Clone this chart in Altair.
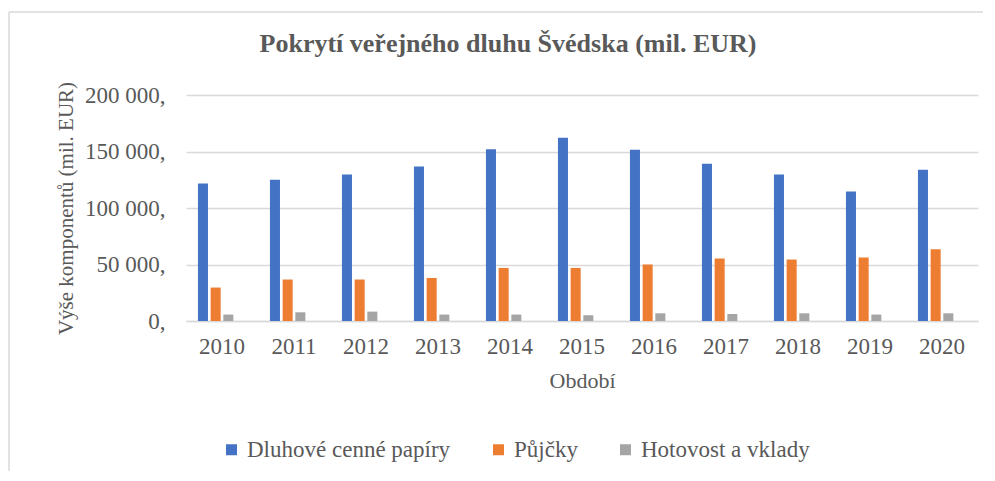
import altair as alt
import pandas as pd

years = ["2010", "2011", "2012", "2013", "2014", "2015", "2016", "2017", "2018", "2019", "2020"]
series = ["Dluhové cenné papíry", "Půjčky", "Hotovost a vklady"]
securities = [121700, 124900, 129700, 136800, 152100, 162100, 151500, 139100, 129700, 114600, 133800]
loans = [29600, 36700, 36700, 38100, 47000, 47000, 50000, 55300, 54400, 56200, 63500]
cash = [5700, 7700, 8300, 5700, 5700, 5100, 6800, 6200, 6800, 5700, 6800]
colors = ["#4472C4", "#ED7D31", "#A5A5A5"]

rows = []
for name, vals in zip(series, [securities, loans, cash]):
    for y, v in zip(years, vals):
        rows.append({"Období": y, "Série": name, "Hodnota": v})
df = pd.DataFrame(rows)

FONT = "Liberation Serif"
TXT = "#595959"
GRID = "#d9d9d9"

bars = alt.Chart(df).mark_bar().encode(
    x=alt.X("Období:N", sort=years,
            scale=alt.Scale(paddingInner=0.295, paddingOuter=0.1475),
            axis=alt.Axis(title="Období", labelAngle=0, ticks=False, domainColor=GRID,
                          domainWidth=1.5, labelPadding=14, titlePadding=12,
                          labelFont=FONT, titleFont=FONT, labelColor=TXT, titleColor=TXT,
                          labelFontSize=23, titleFontSize=22, titleFontWeight="normal")),
    xOffset=alt.XOffset("Série:N",
                        scale=alt.Scale(domain=series + ["_"], paddingInner=0.21, paddingOuter=0.105)),
    y=alt.Y("Hodnota:Q",
            scale=alt.Scale(domain=[0, 200000]),
            axis=alt.Axis(title="Výše komponentů (mil. EUR)", values=[0, 50000, 100000, 150000, 200000],
                          labelExpr="replace(format(datum.value, ','), ',', ' ') + ','",
                          ticks=False, domain=False, gridColor=GRID, gridWidth=1.5,
                          labelPadding=21, titlePadding=8,
                          labelFont=FONT, titleFont=FONT, labelColor=TXT, titleColor=TXT,
                          labelFontSize=23, titleFontSize=21, titleFontWeight="normal")),
    color=alt.Color("Série:N", sort=series,
                    scale=alt.Scale(domain=series, range=colors),
                    legend=alt.Legend(title=None, orient="none", direction="horizontal",
                                      legendX=34, legendY=343, symbolType="square",
                                      symbolSize=121, symbolStrokeWidth=0, labelFontSize=23,
                                      labelFont=FONT, labelColor=TXT,
                                      labelOffset=4, columnPadding=36, labelLimit=400)),
)

frame = pd.DataFrame({"a": [0]})
left_line = alt.Chart(frame).mark_rule(color=GRID, strokeWidth=1.5).encode(
    x=alt.value(-177), y=alt.value(-83), y2=alt.value(420))
top_line = alt.Chart(frame).mark_rule(color=GRID, strokeWidth=1.5).encode(
    x=alt.value(-177), x2=alt.value(820), y=alt.value(-83))

chart = alt.layer(bars, left_line, top_line).properties(
    width=792, height=226,
    autosize=alt.AutoSizeParams(type="none"),
    padding={"left": 178, "top": 87, "right": 5, "bottom": 150},
    title=alt.TitleParams("Pokrytí veřejného dluhu Švédska (mil. EUR)", anchor="middle",
                          frame="group", dx=-74, dy=93, offset=26, baseline="alphabetic",
                          fontSize=26, fontWeight="bold", font=FONT, color=TXT),
).configure(font=FONT).configure_view(strokeWidth=0)

chart.save("out.html", embed_options={"renderer": "svg", "actions": False})
